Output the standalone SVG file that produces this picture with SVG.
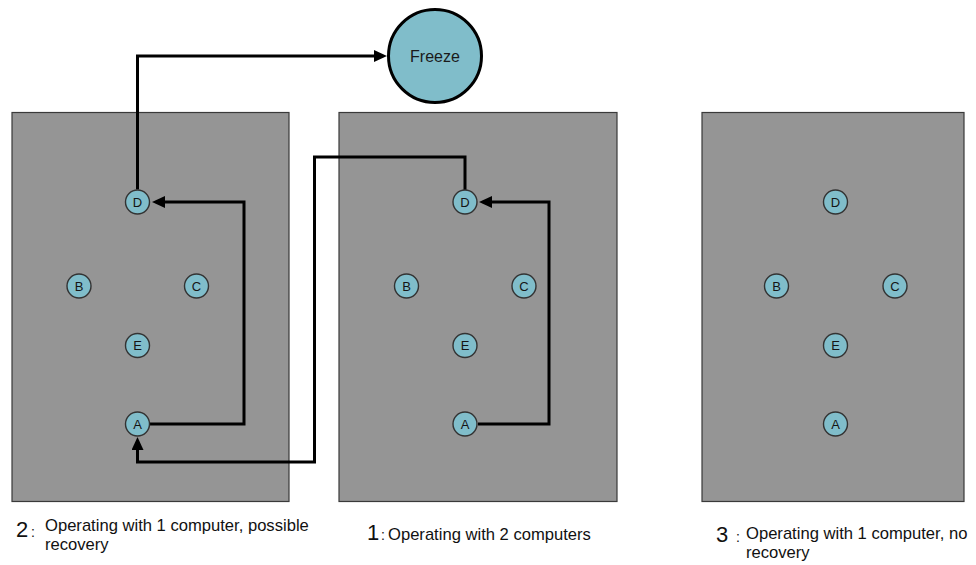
<svg xmlns="http://www.w3.org/2000/svg" width="976" height="565" viewBox="0 0 976 565">
  <defs>
    <style>
      .panel { fill: #959595; stroke: #3a3a3a; stroke-width: 1.2; }
      .node circle { fill: #80bdca; stroke: #333; stroke-width: 1.4; }
      .node text { font-family: "Liberation Sans", Arial, sans-serif; font-size: 13px; fill: #151515; text-anchor: middle; }
      .big circle { fill: #80bdca; stroke: #000; stroke-width: 3; }
      .big text { font-family: "Liberation Sans", Arial, sans-serif; font-size: 16px; fill: #1a1a1a; text-anchor: middle; }
      .link { fill: none; stroke: #000; stroke-width: 3; stroke-linejoin: miter; }
      .caption { font-family: "Liberation Sans", Arial, sans-serif; font-size: 16.6px; fill: #111; }
      .num { font-size: 22px; }
      .colon { font-size: 14px; }
    </style>
    <marker id="arrow" markerUnits="userSpaceOnUse" markerWidth="14" markerHeight="12" refX="2" refY="6" orient="auto">
      <path d="M0,0 L13,6 L0,12 z" fill="#000"/>
    </marker>
  </defs>

  <rect width="976" height="565" fill="#fff"/>

  <!-- three computer panels -->
  <g id="panel-2"><rect class="panel" x="12" y="112.5" width="277" height="389"/></g>
  <g id="panel-1"><rect class="panel" x="339" y="112.5" width="278" height="389"/></g>
  <g id="panel-3"><rect class="panel" x="702" y="112.5" width="262" height="389"/></g>

  <!-- connectors -->
  <g id="connectors">
    <path class="link" d="M137.5,189.5 V56 H376" marker-end="url(#arrow)"/>
    <path class="link" d="M150,424 H244 V202 H163" marker-end="url(#arrow)"/>
    <path class="link" d="M478,424 H549 V202 H490" marker-end="url(#arrow)"/>
    <path class="link" d="M465,190 V157 H314.5 V462 H137.5 V448" marker-end="url(#arrow)"/>
  </g>

  <!-- freeze state -->
  <g id="freeze" class="big">
    <circle cx="435" cy="56" r="46.5"/>
    <text x="435" y="61.5">Freeze</text>
  </g>

  <!-- nodes, panel 2 -->
  <g id="p2-D" class="node"><circle cx="137.5" cy="202" r="12"/><text x="137.5" y="206.7">D</text></g>
  <g id="p2-B" class="node"><circle cx="79" cy="286" r="12"/><text x="79" y="290.7">B</text></g>
  <g id="p2-C" class="node"><circle cx="196.5" cy="286" r="12"/><text x="196.5" y="290.7">C</text></g>
  <g id="p2-E" class="node"><circle cx="137.5" cy="345.5" r="12"/><text x="137.5" y="350.2">E</text></g>
  <g id="p2-A" class="node"><circle cx="137.5" cy="424" r="12"/><text x="137.5" y="428.7">A</text></g>

  <!-- nodes, panel 1 -->
  <g id="p1-D" class="node"><circle cx="465" cy="202" r="12"/><text x="465" y="206.7">D</text></g>
  <g id="p1-B" class="node"><circle cx="406.5" cy="286" r="12"/><text x="406.5" y="290.7">B</text></g>
  <g id="p1-C" class="node"><circle cx="524" cy="286" r="12"/><text x="524" y="290.7">C</text></g>
  <g id="p1-E" class="node"><circle cx="465" cy="345.5" r="12"/><text x="465" y="350.2">E</text></g>
  <g id="p1-A" class="node"><circle cx="465" cy="424" r="12"/><text x="465" y="428.7">A</text></g>

  <!-- nodes, panel 3 -->
  <g id="p3-D" class="node"><circle cx="835.5" cy="202" r="12"/><text x="835.5" y="206.7">D</text></g>
  <g id="p3-B" class="node"><circle cx="776.5" cy="286" r="12"/><text x="776.5" y="290.7">B</text></g>
  <g id="p3-C" class="node"><circle cx="895" cy="286" r="12"/><text x="895" y="290.7">C</text></g>
  <g id="p3-E" class="node"><circle cx="835.5" cy="345.5" r="12"/><text x="835.5" y="350.2">E</text></g>
  <g id="p3-A" class="node"><circle cx="835.5" cy="424" r="12"/><text x="835.5" y="428.7">A</text></g>

  <!-- captions -->
  <g id="caption-2" class="caption">
    <text x="16" y="537"><tspan class="num">2</tspan><tspan class="colon" x="31">:</tspan></text>
    <text x="45" y="530.5">Operating with 1 computer, possible</text>
    <text x="45" y="549.5">recovery</text>
  </g>
  <g id="caption-1" class="caption">
    <text x="367" y="540"><tspan class="num">1</tspan><tspan class="colon" x="381">:</tspan></text>
    <text x="388" y="540">Operating with 2 computers</text>
  </g>
  <g id="caption-3" class="caption">
    <text x="716" y="542"><tspan class="num">3</tspan><tspan class="colon" x="736">:</tspan></text>
    <text x="746" y="538.5">Operating with 1 computer, no</text>
    <text x="746" y="558">recovery</text>
  </g>
</svg>
